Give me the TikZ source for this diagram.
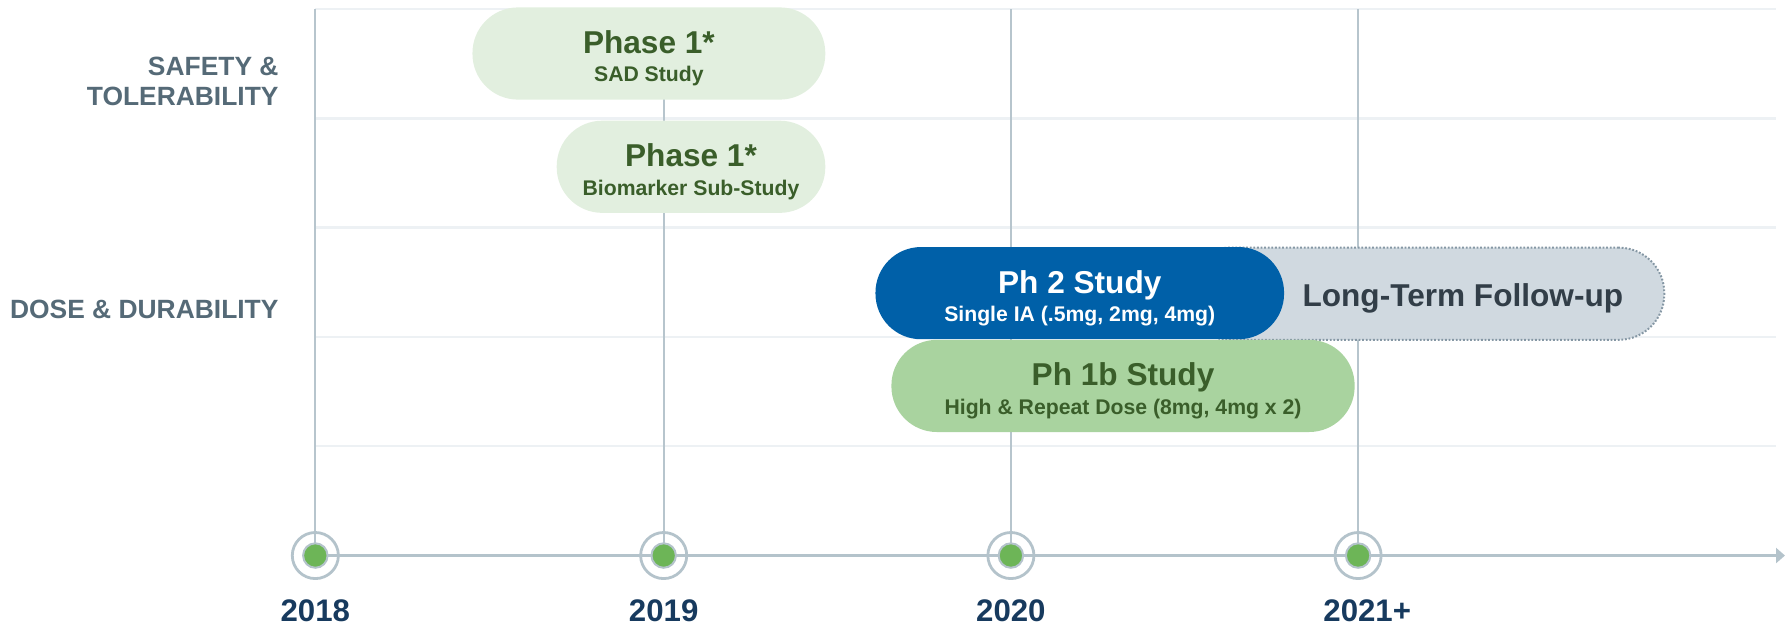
\documentclass[tikz,border=0pt]{standalone}
\usepackage{fontspec}
\setmainfont{Liberation Sans}
\usetikzlibrary{arrows.meta}

\definecolor{vgridcol}{HTML}{B7C5CD}
\definecolor{hgridcol}{HTML}{EDF1F4}
\definecolor{axiscol}{HTML}{B4C3CB}
\definecolor{sidecol}{HTML}{556A77}
\definecolor{yearcol}{HTML}{173A5E}
\definecolor{darkgreen}{HTML}{3A5E2A}
\definecolor{palegreen}{HTML}{E2EFDF}
\definecolor{midgreen}{HTML}{A9D39F}
\definecolor{studyblue}{HTML}{0060A8}
\definecolor{followgray}{HTML}{D0D9E0}
\definecolor{followborder}{HTML}{8597A4}
\definecolor{followtext}{HTML}{323E48}
\definecolor{dotgreen}{HTML}{6DB557}

\newcommand\phasefont{\fontsize{15.8}{14.2}\selectfont}
\newcommand\detailfont{\fontsize{10.6}{14.2}\selectfont}

\begin{document}
\begin{tikzpicture}[
        x=0.02cm, y=-0.02cm,
        hgrid/.style={draw=hgridcol, line width=1.2pt},
        vgrid/.style={draw=vgridcol, line width=1pt},
        axis/.style={draw=axiscol, line width=1.5pt, -{Triangle[length=4.5pt, width=7.5pt]}},
        side/.style={font=\bfseries\fontsize{13.2}{15.4}\selectfont, text=sidecol, align=right, inner sep=0pt},
        year/.style={font=\bfseries\fontsize{15.6}{18}\selectfont, text=yearcol, inner sep=0pt},
        pill/.style={rounded corners=0.8cm, minimum height=1.62cm, inner sep=0pt,
            align=center, text height=28.4pt, text depth=0pt, font=\bfseries\phasefont},
        ring/.style={circle, draw=axiscol, line width=1.4pt, minimum size=0.81cm, inner sep=0pt},
        dot/.style={circle, draw=axiscol, fill=dotgreen, line width=1pt, minimum size=0.43cm, inner sep=0pt}
    ]
    \useasboundingbox (0,0) rectangle (1568,551);

    % background grid
    \foreach \y in {8,104,200,296,392}
        \draw[hgrid] (277,\y) -- (1560,\y);
    \foreach \yr/\x in {2018/277, 2019/583, 2020/888, 2021/1193}
        \coordinate (t\yr) at (\x,488);
    \foreach \yr in {2018,...,2021}
        \draw[vgrid] (t\yr |- 0,8) -- (t\yr);
    \coordinate (axisend) at (1568,488);

    % row labels
    \node[side, anchor=base east] (safety) at (245,93) {SAFETY \&\\TOLERABILITY};
    \node[side, anchor=base east] (dose) at (245,280) {DOSE \& DURABILITY};

    % studies
    \node[pill, fill=palegreen, text=darkgreen, minimum width=6.2cm] (sad) at (570,47)
        {Phase 1*\\{\detailfont SAD Study}};
    \node[pill, fill=palegreen, text=darkgreen, minimum width=4.72cm] (bio) at (607,146.5)
        {Phase 1*\\{\detailfont Biomarker Sub-Study}};
    \node[pill, fill=followgray, draw=followborder, line width=1pt,
        dash pattern=on 0.9pt off 0.9pt, minimum width=8.44cm] (ltfu) at (1251,258) {};
    \node[font=\bfseries\phasefont, text=followtext, anchor=base, inner sep=0pt] (ltfutext)
        at (1285,269) {Long-Term Follow-up};
    \node[pill, fill=studyblue, text=white, minimum width=7.18cm] (ph2) at (948.5,257.5)
        {Ph 2 Study\\{\detailfont Single IA (.5mg, 2mg, 4mg)}};
    \node[pill, fill=midgreen, text=darkgreen, minimum width=8.14cm] (ph1b) at (986.5,339)
        {Ph 1b Study\\{\detailfont High \& Repeat Dose (8mg, 4mg x 2)}};

    % time axis
    \draw[axis] (t2018) -- (axisend);
    \foreach \yr in {2018,...,2021} {
        \node[ring] (r\yr) at (t\yr) {};
        \node[dot] (d\yr) at (t\yr) {};
    }
    \foreach \yr/\txt in {2018/2018, 2019/2019, 2020/2020, 2021/2021\rlap{+}}
        \node[year, anchor=base] (y\yr) at (t\yr |- 0,546) {\txt};
\end{tikzpicture}
\end{document}
